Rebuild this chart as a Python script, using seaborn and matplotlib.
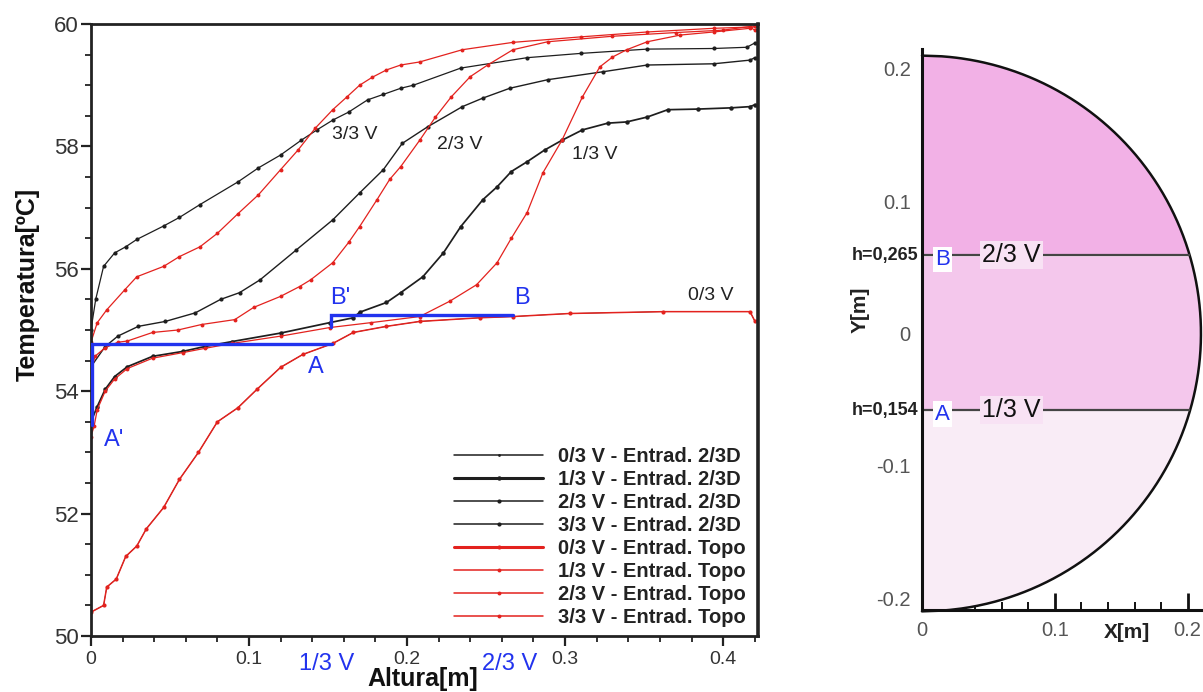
import numpy as np
import pandas as pd
import matplotlib
matplotlib.use("Agg")
import matplotlib.pyplot as plt
import seaborn as sns
from matplotlib.ticker import MultipleLocator, FuncFormatter

# ---------------- data ----------------
bk0_x = [0.000, 0.008, 0.010, 0.016, 0.022, 0.029, 0.035, 0.046, 0.056, 0.068, 0.080, 0.093, 0.105, 0.120, 0.134, 0.153, 0.166, 0.187, 0.208, 0.246, 0.267, 0.303, 0.362, 0.417, 0.420]
bk0_T = [50.39, 50.50, 50.80, 50.93, 51.30, 51.47, 51.75, 52.10, 52.56, 53.00, 53.50, 53.73, 54.03, 54.39, 54.60, 54.78, 54.96, 55.06, 55.14, 55.20, 55.22, 55.27, 55.30, 55.30, 55.15]

bk1_x = [0.000, 0.004, 0.009, 0.015, 0.023, 0.039, 0.058, 0.072, 0.089, 0.120, 0.151, 0.166, 0.170, 0.187, 0.196, 0.210, 0.223, 0.234, 0.248, 0.257, 0.266, 0.276, 0.287, 0.298, 0.311, 0.327, 0.339, 0.352, 0.365, 0.384, 0.405, 0.417, 0.420]
bk1_T = [53.50, 53.75, 54.03, 54.24, 54.40, 54.57, 54.65, 54.73, 54.81, 54.95, 55.12, 55.20, 55.29, 55.45, 55.61, 55.87, 56.26, 56.69, 57.13, 57.34, 57.59, 57.75, 57.94, 58.10, 58.27, 58.38, 58.40, 58.48, 58.60, 58.61, 58.63, 58.65, 58.68]

bk2_x = [0.000, 0.009, 0.017, 0.030, 0.047, 0.066, 0.082, 0.094, 0.107, 0.130, 0.153, 0.170, 0.185, 0.197, 0.213, 0.235, 0.248, 0.265, 0.289, 0.324, 0.352, 0.394, 0.417, 0.420]
bk2_T = [54.40, 54.73, 54.90, 55.06, 55.14, 55.28, 55.50, 55.61, 55.82, 56.31, 56.80, 57.24, 57.62, 58.05, 58.32, 58.65, 58.79, 58.95, 59.09, 59.22, 59.33, 59.35, 59.41, 59.45]

bk3_x = [0.000, 0.003, 0.008, 0.015, 0.022, 0.029, 0.046, 0.056, 0.069, 0.093, 0.106, 0.120, 0.133, 0.143, 0.153, 0.163, 0.175, 0.185, 0.196, 0.204, 0.234, 0.276, 0.310, 0.352, 0.394, 0.415, 0.420]
bk3_T = [55.00, 55.50, 56.04, 56.26, 56.36, 56.48, 56.70, 56.84, 57.05, 57.42, 57.65, 57.86, 58.10, 58.27, 58.43, 58.56, 58.76, 58.85, 58.95, 59.00, 59.28, 59.45, 59.52, 59.59, 59.60, 59.62, 59.69]

rd0_x = [0.000, 0.008, 0.010, 0.016, 0.022, 0.029, 0.035, 0.046, 0.056, 0.068, 0.080, 0.093, 0.105, 0.120, 0.134, 0.153, 0.166, 0.187, 0.208, 0.246, 0.267, 0.303, 0.362, 0.417, 0.420]
rd0_T = [50.39, 50.50, 50.80, 50.93, 51.30, 51.47, 51.75, 52.10, 52.56, 53.00, 53.50, 53.73, 54.03, 54.39, 54.60, 54.78, 54.96, 55.06, 55.14, 55.20, 55.22, 55.27, 55.30, 55.30, 55.15]

rd1_x = [0.000, 0.002, 0.004, 0.009, 0.015, 0.023, 0.039, 0.058, 0.072, 0.089, 0.120, 0.151, 0.177, 0.208, 0.227, 0.244, 0.257, 0.266, 0.276, 0.286, 0.298, 0.311, 0.322, 0.330, 0.339, 0.352, 0.373, 0.394, 0.417, 0.420]
rd1_T = [53.26, 53.43, 53.70, 54.00, 54.20, 54.37, 54.54, 54.63, 54.70, 54.78, 54.90, 55.04, 55.12, 55.22, 55.47, 55.74, 56.10, 56.50, 56.92, 57.57, 58.10, 58.81, 59.30, 59.46, 59.58, 59.71, 59.82, 59.87, 59.93, 59.96]

rd2_x = [0.000, 0.0025, 0.009, 0.017, 0.023, 0.039, 0.055, 0.070, 0.091, 0.103, 0.120, 0.132, 0.139, 0.153, 0.163, 0.170, 0.181, 0.189, 0.196, 0.208, 0.218, 0.228, 0.240, 0.251, 0.267, 0.289, 0.330, 0.370, 0.400, 0.420]
rd2_T = [54.30, 54.57, 54.71, 54.80, 54.82, 54.96, 55.00, 55.09, 55.17, 55.37, 55.55, 55.71, 55.82, 56.10, 56.43, 56.69, 57.13, 57.46, 57.67, 58.10, 58.48, 58.81, 59.14, 59.33, 59.58, 59.71, 59.80, 59.86, 59.90, 59.97]

rd3_x = [0.000, 0.004, 0.010, 0.0215, 0.029, 0.046, 0.056, 0.069, 0.080, 0.093, 0.106, 0.120, 0.131, 0.142, 0.153, 0.162, 0.170, 0.178, 0.187, 0.196, 0.208, 0.235, 0.267, 0.310, 0.352, 0.394, 0.417, 0.420]
rd3_T = [54.80, 55.12, 55.33, 55.66, 55.87, 56.04, 56.20, 56.36, 56.58, 56.90, 57.21, 57.62, 57.94, 58.30, 58.60, 58.81, 59.00, 59.13, 59.25, 59.33, 59.38, 59.58, 59.70, 59.79, 59.87, 59.93, 59.95, 59.90]

legend_labels = ["0/3 V - Entrad. 2/3D", "1/3 V - Entrad. 2/3D", "2/3 V - Entrad. 2/3D", "3/3 V - Entrad. 2/3D",
                 "0/3 V - Entrad. Topo", "1/3 V - Entrad. Topo", "2/3 V - Entrad. Topo", "3/3 V - Entrad. Topo"]

curve_labels = ["3/3 V", "2/3 V", "1/3 V", "0/3 V"]
curve_label_x = [0.167, 0.2335, 0.319, 0.392]
curve_label_T = [58.19, 58.03, 57.86, 55.56]

# A'-A and B'-B marker paths
pathA_x = [0.0006, 0.0006, 0.1525]
pathA_T = [53.45, 54.77, 54.77]
pathB_x = [0.152, 0.152, 0.267]
pathB_T = [55.05, 55.24, 55.24]
point_labels = ["A'", "A", "B'", "B"]
point_label_x = [0.0145, 0.142, 0.158, 0.273]
point_label_T = [53.2, 54.39, 55.53, 55.53]
axis_marks = ["1/3 V", "2/3 V"]
axis_marks_x = [0.149, 0.265]

# right panel (tank section)
tank_R = 0.21
level_y = [-0.058, 0.059]
level_names = ["h=0,154", "h=0,265"]
level_points = ["A", "B"]
level_vols = ["1/3 V", "2/3 V"]

# ---------------- style ----------------
sns.set_theme(style="ticks")
plt.rcParams["font.family"] = ["Liberation Sans", "DejaVu Sans"]

BLACK = "#1e1e1e"
RED = "#e3221e"
BLUE = "#2233ee"

fig = plt.figure(figsize=(12.03, 6.92), dpi=100)
ax = fig.add_axes([0.0756, 0.0809, 0.5544, 0.8844])

series = [
    (bk0_x, bk0_T, BLACK, 0.5, 2.0),
    (bk1_x, bk1_T, BLACK, 1.25, 3.2),
    (bk2_x, bk2_T, BLACK, 1.0, 3.0),
    (bk3_x, bk3_T, BLACK, 0.9, 3.0),
    (rd0_x, rd0_T, RED, 1.1, 3.0),
    (rd1_x, rd1_T, RED, 0.9, 2.8),
    (rd2_x, rd2_T, RED, 0.9, 2.8),
    (rd3_x, rd3_T, RED, 0.9, 2.8),
]
for (xs, ts, col, lw, ms), lab in zip(series, legend_labels):
    df = pd.DataFrame({"x": xs, "T": ts})
    sns.lineplot(data=df, x="x", y="T", ax=ax, color=col, lw=lw, marker="o",
                 markersize=ms, markeredgewidth=0, sort=False, estimator=None,
                 label=lab)

ax.plot(pathA_x, pathA_T, color=BLUE, lw=2.4, solid_joinstyle="miter", zorder=5)
ax.plot(pathB_x, pathB_T, color=BLUE, lw=2.4, solid_joinstyle="miter", zorder=5)

for t, x, y in zip(point_labels, point_label_x, point_label_T):
    ax.text(x, y, t, color=BLUE, fontsize=17, ha="center", va="center", zorder=6)
for t, x, y in zip(curve_labels, curve_label_x, curve_label_T):
    ax.text(x, y, t, color="#222222", fontsize=14, ha="center", va="center", zorder=6)
for t, x in zip(axis_marks, axis_marks_x):
    ax.text(x, -0.045, t, color=BLUE, fontsize=17, ha="center", va="center",
            transform=ax.get_xaxis_transform(), clip_on=False)

ax.set_xlim(0, 0.422)
ax.set_ylim(50, 60)
ax.xaxis.set_major_locator(MultipleLocator(0.1))
ax.xaxis.set_minor_locator(MultipleLocator(0.02))
ax.yaxis.set_major_locator(MultipleLocator(2))
ax.yaxis.set_minor_locator(MultipleLocator(0.5))
ax.xaxis.set_major_formatter(FuncFormatter(lambda v, _: "0" if abs(v) < 1e-9 else f"{v:g}"))
ax.yaxis.set_major_formatter(FuncFormatter(lambda v, _: f"{v:.0f}"))
ax.tick_params(axis="both", which="major", direction="out", length=7, width=1.6,
               colors="#222222", labelcolor="#333333")
ax.tick_params(axis="y", which="major", labelsize=16, pad=2)
ax.tick_params(axis="x", which="major", labelsize=14, pad=4)
ax.tick_params(axis="both", which="minor", direction="out", length=4, width=1.3, colors="#222222")
for s in ax.spines.values():
    s.set_linewidth(2.0)
    s.set_color("#222222")
ax.spines["right"].set_linewidth(2.6)

ax.set_xlabel("Altura[m]", fontsize=18, fontweight="bold", color="#111111")
ax.set_ylabel("Temperatura[ºC]", fontsize=18, fontweight="bold", color="#111111")
ax.xaxis.set_label_coords(0.498, -0.050)
ax.yaxis.set_label_coords(-0.077, 0.574)

handles, labels = ax.get_legend_handles_labels()
leg = ax.legend(handles, labels, loc="lower right", bbox_to_anchor=(0.982, 0.014), frameon=False,
                prop={"size": 14.5, "weight": "bold"}, handlelength=4.4, handletextpad=0.75,
                labelspacing=0.2, borderpad=0, borderaxespad=0)
for t in leg.get_texts():
    t.set_color("#222222")
for i, ln in enumerate(leg.get_lines()):
    ln.set_linewidth(2.2 if i in (1, 4) else 1.1)

# ---------------- right panel ----------------
ax2 = fig.add_axes([0.7664, 0.1185, 0.2319, 0.8107])
yy = np.linspace(-tank_R, tank_R, 800)
xx = np.sqrt(np.clip(tank_R ** 2 - yy ** 2, 0, None))
band_colors = ["#f9ecf6", "#f4c7ec", "#f2b1e6"]
edges = [-tank_R] + level_y + [tank_R]
for i, c in enumerate(band_colors):
    m = (yy >= edges[i]) & (yy <= edges[i + 1])
    ax2.fill_betweenx(yy[m], 0, xx[m], color=c, lw=0)
ax2.plot(xx, yy, color="#111111", lw=1.8, clip_on=False)
for ly in level_y:
    ax2.hlines(ly, 0, np.sqrt(tank_R ** 2 - ly ** 2), color="#444444", lw=1.6)
for ly, nm, pt, vol in zip(level_y, level_names, level_points, level_vols):
    ax2.text(-0.003, ly, nm, ha="right", va="center", fontsize=13, fontweight="bold",
             color="#222222", clip_on=False)
    ax2.text(0.0155, ly - 0.003, pt, ha="center", va="center", fontsize=16, color=BLUE,
             bbox=dict(boxstyle="square,pad=0.1", fc="white", ec="none"))
    ax2.text(0.0675, ly, vol, ha="center", va="center", fontsize=18, color="#111111",
             bbox=dict(boxstyle="square,pad=0.08", fc="#f8e2f4", ec="none"))

ax2.set_xlim(0, 0.21)
ax2.set_ylim(-0.209, 0.215)
ax2.spines["top"].set_visible(False)
ax2.spines["right"].set_visible(False)
for s in ["left", "bottom"]:
    ax2.spines[s].set_linewidth(2.2)
    ax2.spines[s].set_color("#111111")
ax2.xaxis.set_major_locator(MultipleLocator(0.1))
ax2.xaxis.set_minor_locator(MultipleLocator(0.02))
ax2.yaxis.set_major_locator(MultipleLocator(0.1))
ax2.yaxis.set_minor_locator(MultipleLocator(0.02))
fmt = FuncFormatter(lambda v, _: "0" if abs(v) < 1e-9 else f"{v:g}")
ax2.xaxis.set_major_formatter(fmt)
ax2.yaxis.set_major_formatter(fmt)
ax2.tick_params(axis="both", which="major", direction="in", length=12, width=2.0,
                colors="#111111", labelcolor="#555555", labelsize=14.5)
ax2.tick_params(axis="both", which="minor", direction="in", length=6, width=1.4, colors="#111111")
ax2.tick_params(axis="y", which="major", pad=8)
ax2.tick_params(axis="x", which="major", pad=8)
ax2.set_xlabel("X[m]", fontsize=15, fontweight="bold", color="#222222")
ax2.set_ylabel("Y[m]", fontsize=15, fontweight="bold", color="#222222")
ax2.xaxis.set_label_coords(0.735, -0.023)
ax2.yaxis.set_label_coords(-0.186, 0.535)

fig.savefig("out.png", dpi=100)
